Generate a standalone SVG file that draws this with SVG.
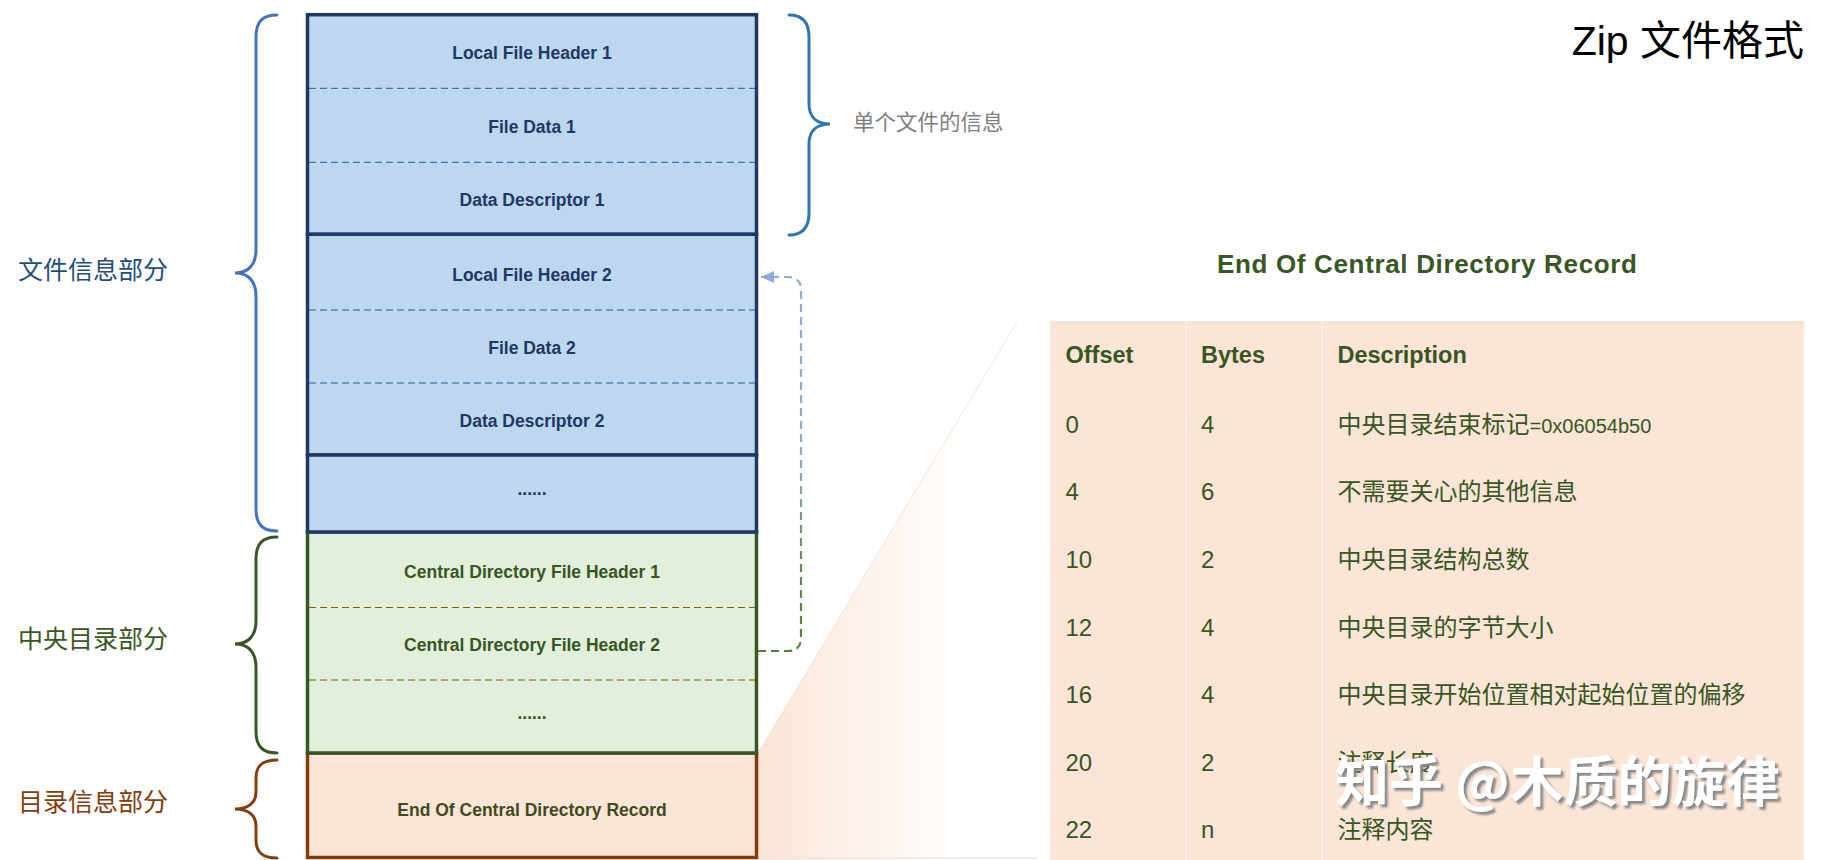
<svg xmlns="http://www.w3.org/2000/svg" width="1829" height="860" viewBox="0 0 1829 860">
<defs>
<style>
.box{stroke-width:3.5}
.lbl{font-family:"Liberation Sans","Noto Sans CJK SC",sans-serif;font-weight:bold;font-size:17.5px;text-anchor:middle}
.blue{fill:#1f3864}
.green{fill:#375623}
.dark{fill:#3f4a1f}
.sep{stroke-width:1;stroke-dasharray:7 4;fill:none}
.brace{fill:none;stroke-width:3;stroke-linecap:round}
.side{font-family:"Noto Sans CJK SC","Liberation Sans",sans-serif;font-size:25px}
.th{font-family:"Liberation Sans","Noto Sans CJK SC",sans-serif;font-weight:bold;font-size:23.5px;fill:#375623}
.td{font-family:"Liberation Sans","Noto Sans CJK SC",sans-serif;font-size:24px;fill:#375623}
.wm{font-family:"Noto Sans CJK SC",sans-serif;font-weight:bold;font-size:54px}
</style>
<linearGradient id="fanGrad" gradientUnits="userSpaceOnUse" x1="758" y1="0" x2="965" y2="0">
<stop offset="0" stop-color="#fbe5d6" stop-opacity="1"/>
<stop offset="1" stop-color="#fbe5d6" stop-opacity="0"/>
</linearGradient>
<linearGradient id="dashGrad" gradientUnits="userSpaceOnUse" x1="0" y1="277" x2="0" y2="651">
<stop offset="0" stop-color="#8faadc"/>
<stop offset="0.5" stop-color="#93a9c6"/>
<stop offset="0.75" stop-color="#6d8c5a"/>
<stop offset="1" stop-color="#548235"/>
</linearGradient>
<marker id="arrow" markerUnits="userSpaceOnUse" markerWidth="14" markerHeight="14" refX="13" refY="6" orient="auto">
<path d="M0,0 L13,6 L0,12 z" fill="#8faadc"/>
</marker>
<filter id="wmShadow" x="-5%" y="-20%" width="115%" height="150%">
<feDropShadow dx="3" dy="3" stdDeviation="0.8" flood-color="#8a8a8a" flood-opacity="1"/>
</filter>
</defs>
<rect x="0" y="0" width="1829" height="860" fill="#ffffff"/>

<g id="title">
<text x="1804" y="55" text-anchor="end" font-family="Liberation Sans,'Noto Sans CJK SC',sans-serif" font-size="41" fill="#000">Zip 文件格式</text>
</g>

<g id="fan">
<polygon points="758,753 1017,322 1050,322 1050,860 758,860" fill="url(#fanGrad)"/>
<line x1="758" y1="753" x2="1017" y2="322" stroke="#f3e4da" stroke-width="1"/>
<line x1="758" y1="858" x2="1037" y2="858" stroke="#e8e8e8" stroke-width="1.5"/>
</g>

<g id="eocd-box">
<rect class="box" x="307.5" y="753" width="449" height="104.5" fill="#fbe5d6" stroke="#843c0c"/>
<text class="lbl dark" x="532" y="815.5">End Of Central Directory Record</text>
</g>

<g id="central-directory">
<rect class="box" x="307.5" y="532" width="449" height="221" fill="#e2efda" stroke="#385723"/>
<line class="sep" x1="309" y1="607.5" x2="755" y2="607.5" stroke="#7f6000"/>
<line class="sep" x1="309" y1="680" x2="755" y2="680" stroke="#7f6000"/>
<text class="lbl green" x="532" y="578">Central Directory File Header 1</text>
<text class="lbl green" x="532" y="650.5">Central Directory File Header 2</text>
<text class="lbl green" x="532" y="718.5">......</text>
</g>

<g id="file-1">
<rect class="box" x="307.5" y="14.7" width="449" height="219.6" fill="#bdd7ee" stroke="#1f3864"/>
<line class="sep" x1="309" y1="88.3" x2="755" y2="88.3" stroke="#2f5597"/>
<line class="sep" x1="309" y1="162.3" x2="755" y2="162.3" stroke="#2f5597"/>
<text class="lbl blue" x="532" y="58.5">Local File Header 1</text>
<text class="lbl blue" x="532" y="132.8">File Data 1</text>
<text class="lbl blue" x="532" y="205.5">Data Descriptor 1</text>
</g>

<g id="file-2">
<rect class="box" x="307.5" y="234.3" width="449" height="220.7" fill="#bdd7ee" stroke="#1f3864"/>
<line class="sep" x1="309" y1="310" x2="755" y2="310" stroke="#2f5597"/>
<line class="sep" x1="309" y1="383" x2="755" y2="383" stroke="#2f5597"/>
<text class="lbl blue" x="532" y="280.5">Local File Header 2</text>
<text class="lbl blue" x="532" y="353.5">File Data 2</text>
<text class="lbl blue" x="532" y="427">Data Descriptor 2</text>
</g>

<g id="file-more">
<rect class="box" x="307.5" y="455" width="449" height="77" fill="#bdd7ee" stroke="#1f3864"/>
<text class="lbl blue" x="532" y="495">......</text>
</g>

<g id="connectors">
<path d="M758,651 L788,651 Q801,651 801,638 L801,290 Q801,277 788,277 L761,277" fill="none" stroke="url(#dashGrad)" stroke-width="2.2" stroke-dasharray="8 5" marker-end="url(#arrow)"/>
</g>

<g id="brace-files">
<path class="brace" stroke="#4472c4" d="M277,15 C262,15 256,22 256,37 L256,250 C256,265 248,273 235,273 C248,273 256,281 256,296 L256,509 C256,524 262,531 277,531"/>
<text class="side" x="18" y="278.5" fill="#1f4e79">文件信息部分</text>
</g>

<g id="brace-central">
<path class="brace" stroke="#385723" d="M277,537 C262,537 256,544 256,559 L256,621 C256,636 248,644 235,644 C248,644 256,652 256,667 L256,731 C256,746 262,753 277,753"/>
<text class="side" x="18" y="648" fill="#385723">中央目录部分</text>
</g>

<g id="brace-eocd">
<path class="brace" stroke="#843c0c" d="M277,760 C262,760 256,766 256,778 L256,792 C256,803 248,809 235,809 C248,809 256,815 256,826 L256,840 C256,852 262,858 277,858"/>
<text class="side" x="18" y="811" fill="#843c0c">目录信息部分</text>
</g>

<g id="brace-single">
<path class="brace" stroke="#2e75b6" d="M789,15 C802,15 809,22 809,37 L809,104 C809,118 818,124 830,124 C818,124 809,130 809,144 L809,213 C809,228 802,235 789,235"/>
<text x="853" y="130" font-family="'Noto Sans CJK SC',sans-serif" font-size="21.5" fill="#7f7f7f">单个文件的信息</text>
</g>

<g id="eocd-table">
<text x="1427" y="273" text-anchor="middle" font-family="Liberation Sans,'Noto Sans CJK SC',sans-serif" font-weight="bold" font-size="26" fill="#385723" textLength="420" lengthAdjust="spacing">End Of Central Directory Record</text>
<rect x="1050" y="321" width="754" height="539" fill="#fbe5d6"/>
<line x1="1186" y1="321" x2="1186" y2="860" stroke="#fdeee5" stroke-width="2"/>
<line x1="1322" y1="321" x2="1322" y2="860" stroke="#fdeee5" stroke-width="2"/>
<text class="th" x="1065.5" y="363">Offset</text>
<text class="th" x="1201" y="363">Bytes</text>
<text class="th" x="1337.5" y="363">Description</text>
<text class="td" x="1065.5" y="432.7">0</text>
<text class="td" x="1201" y="432.7">4</text>
<text class="td" x="1337.5" y="432.7">中央目录结束标记<tspan font-size="20">=0x06054b50</tspan></text>
<text class="td" x="1065.5" y="500.3">4</text>
<text class="td" x="1201" y="500.3">6</text>
<text class="td" x="1337.5" y="500.3">不需要关心的其他信息</text>
<text class="td" x="1065.5" y="567.9">10</text>
<text class="td" x="1201" y="567.9">2</text>
<text class="td" x="1337.5" y="567.9">中央目录结构总数</text>
<text class="td" x="1065.5" y="635.5">12</text>
<text class="td" x="1201" y="635.5">4</text>
<text class="td" x="1337.5" y="635.5">中央目录的字节大小</text>
<text class="td" x="1065.5" y="703.1">16</text>
<text class="td" x="1201" y="703.1">4</text>
<text class="td" x="1337.5" y="703.1">中央目录开始位置相对起始位置的偏移</text>
<text class="td" x="1065.5" y="770.7">20</text>
<text class="td" x="1201" y="770.7">2</text>
<text class="td" x="1337.5" y="770.7">注释长度</text>
<text class="td" x="1065.5" y="838.3">22</text>
<text class="td" x="1201" y="838.3">n</text>
<text class="td" x="1337.5" y="838.3">注释内容</text>
</g>

<g id="watermark">
<text class="wm" x="1335" y="802" fill="#ffffff" filter="url(#wmShadow)">知乎 @木质的旋律</text>
</g>
</svg>
